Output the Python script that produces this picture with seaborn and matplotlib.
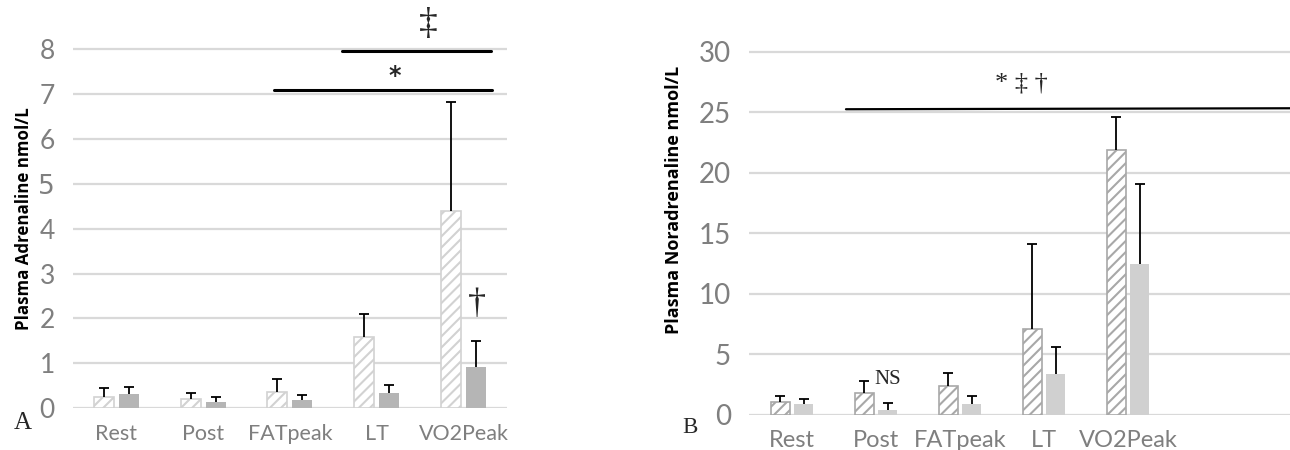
import numpy as np
import pandas as pd
import matplotlib.pyplot as plt
import seaborn as sns

# values (mean and upper error size)
categories = ['Rest', 'Post', 'FATpeak', 'LT', 'VO2Peak']
groups = ['Trial 1', 'Trial 2']

adr_hatched = [0.25, 0.20, 0.37, 1.58, 4.40]
adr_hatched_err = [0.20, 0.15, 0.28, 0.52, 2.42]
adr_solid = [0.31, 0.14, 0.18, 0.35, 0.92]
adr_solid_err = [0.17, 0.11, 0.12, 0.17, 0.58]

nor_hatched = [1.05, 1.79, 2.37, 7.08, 21.9]
nor_hatched_err = [0.52, 1.02, 1.07, 7.02, 2.70]
nor_solid = [0.88, 0.39, 0.88, 3.36, 12.44]
nor_solid_err = [0.47, 0.60, 0.72, 2.28, 6.63]

sns.set_style('white')
plt.rcParams['hatch.linewidth'] = 1.5

tick_col = '#7f7f7f'
grid_col = '#d9d9d9'


def draw_panel(ax, hatched, hatched_err, solid, solid_err, hatch_col, solid_col,
               width, ytick_size, xtick_size):
    df = pd.DataFrame({
        'stage': categories * 2,
        'group': [groups[0]] * 5 + [groups[1]] * 5,
        'value': hatched + solid,
    })
    sns.barplot(data=df, x='stage', y='value', hue='group', order=categories,
                hue_order=groups, palette=['white', solid_col], width=width,
                gap=0.2, errorbar=None, legend=False, linewidth=0, ax=ax)
    for bar in ax.containers[0]:
        bar.set_facecolor('white')
        bar.set_edgecolor(hatch_col)
        bar.set_linewidth(1.2)
        bar.set_hatch('///')
    # upper error bars only
    for cont, vals, errs in [(ax.containers[0], hatched, hatched_err),
                             (ax.containers[1], solid, solid_err)]:
        xs = [b.get_x() + b.get_width() / 2 for b in cont]
        eb = ax.errorbar(xs, vals, yerr=[np.zeros(len(errs)), errs], fmt='none',
                         ecolor='black', elinewidth=1.3, capsize=3.6, capthick=1.3,
                         zorder=5)
        eb[1][0].set_visible(False)
    sns.despine(ax=ax, left=True, bottom=True)
    ax.grid(axis='y', color=grid_col, linewidth=1.6)
    ax.set_axisbelow(True)
    ax.tick_params(axis='y', length=0, pad=13, labelsize=ytick_size, labelcolor=tick_col)
    ax.tick_params(axis='x', length=0, pad=11, labelsize=xtick_size, labelcolor=tick_col)
    ax.set_xlabel('')
    for lab in ax.get_xticklabels() + ax.get_yticklabels():
        lab.set_family('Lato')


fig = plt.figure(figsize=(12.9, 4.5), dpi=100)

# Panel A - adrenaline
ax1 = fig.add_axes([0.0566, 0.0927, 0.3364, 0.888])
draw_panel(ax1, adr_hatched, adr_hatched_err, adr_solid, adr_solid_err,
           '#d2d2d2', '#b5b5b5', 0.576, 19, 15.5)
ax1.set_ylim(0, 8.9)
ax1.set_yticks(range(0, 9))
ax1.set_xlim(-0.5, 4.5)
ax1.set_ylabel('Plasma Adrenaline nmol/L', family='Open Sans', fontweight='bold',
               fontsize=12.2, color='black')
ax1.yaxis.set_label_coords(-0.092, 0.475)
ax1.plot([2.598, 4.314], [7.95, 7.95], color='black', lw=2.2, clip_on=False)
ax1.plot([1.815, 4.326], [7.10, 7.10], color='black', lw=2.2, clip_on=False)
ax1.text(3.21, 7.4, '*', ha='center', va='center', fontsize=17, fontweight='bold',
         family='DejaVu Sans')
ax1.text(3.59, 8.54, '\u2021', ha='center', va='center', fontsize=27,
         family='Liberation Serif')
ax1.text(4.15, 2.32, '\u2020', ha='center', va='center', fontsize=26,
         family='Liberation Serif')
fig.text(23 / 1290, 1 - 429 / 450, 'A', ha='center', va='baseline', fontsize=18,
         family='Liberation Serif')

# Panel B - noradrenaline
ax2 = fig.add_axes([0.5806, 0.0778, 0.4194, 0.888])
draw_panel(ax2, nor_hatched, nor_hatched_err, nor_solid, nor_solid_err,
           '#a8a8a8', '#d0d0d0', 0.556, 20, 17)
ax2.set_ylim(0, 33)
ax2.set_yticks(range(0, 31, 5))
ax2.set_xlim(-0.512, 5.93)
ax2.set_ylabel('Plasma Noradrenaline nmol/L', family='Open Sans', fontweight='bold',
               fontsize=13, color='black')
ax2.yaxis.set_label_coords(-0.122, 0.538)
ax2.plot([0.643, 5.93], [25.25, 25.33], color='black', lw=1.6, clip_on=False)
ax2.text(2.73, 27.4, '* \u2021 \u2020', ha='center', va='center', fontsize=19,
         family='Liberation Serif')
ax2.text(1.14, 2.97, 'NS', ha='center', va='center', fontsize=15,
         family='Liberation Serif')
fig.text(690 / 1290, 1 - 433 / 450, 'B', ha='center', va='baseline', fontsize=16.5,
         family='Liberation Serif')

plt.savefig('out.png', dpi=100)
